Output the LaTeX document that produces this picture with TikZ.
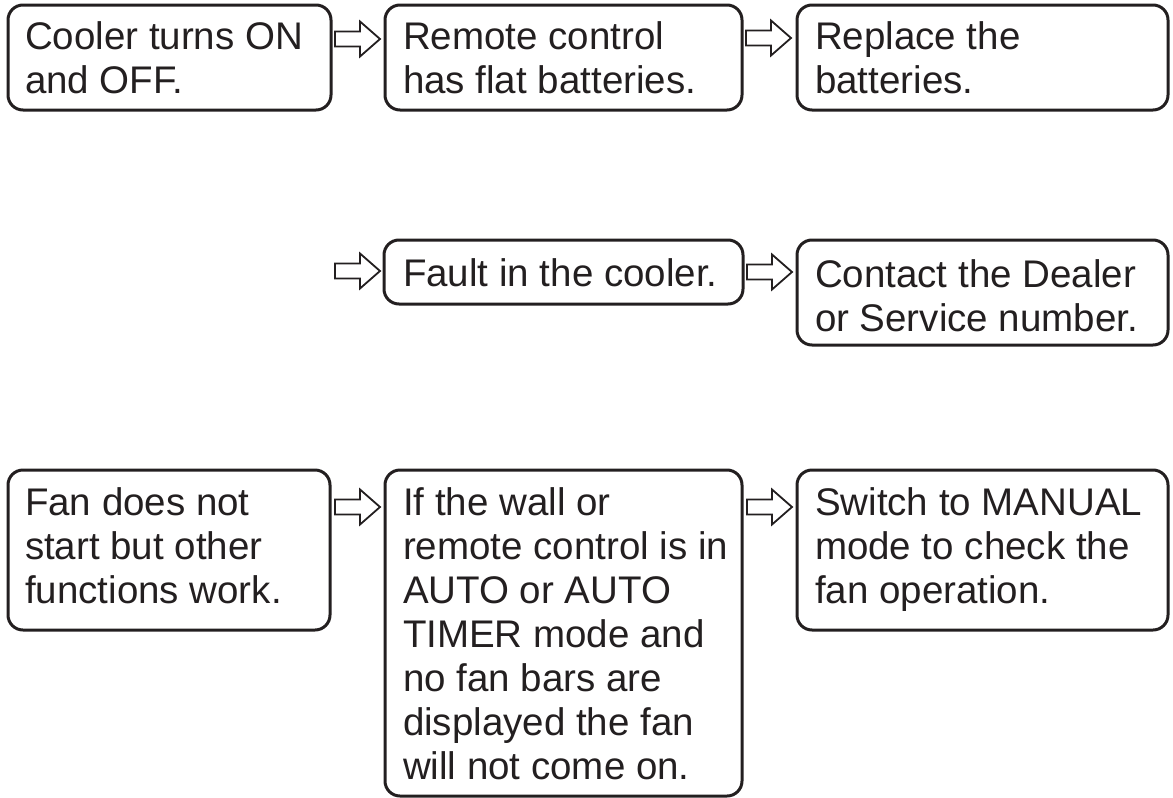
\documentclass[tikz,border=0pt]{standalone}
\usepackage{fontspec}
\setmainfont{Liberation Sans}
\usetikzlibrary{calc}
\definecolor{ink}{HTML}{231F20}
\begin{document}
\begin{tikzpicture}[x=1pt,y=-1pt,
  box/.style={draw=ink, line width=3pt, rounded corners=15pt, inner sep=0pt, outer sep=0pt, anchor=north west},
  txt/.style={text=ink, inner sep=0pt, outer sep=0pt, anchor=base west, align=left, font=\fontsize{38.5}{44}\selectfont},
  harrow/.style={draw=ink, line width=1.8pt, fill=white, line join=miter},
  hollowarrow/.pic={\draw[harrow] (0,-7.5) -- (25,-7.5) -- (25,-17.5) -- (45,0) -- (25,17.5) -- (25,7.5) -- (0,7.5) -- cycle;}]
\useasboundingbox (0,0) rectangle (1173,798);

% row 1 (text nodes anchored at the baseline of their last line)
\node[box, minimum width=323pt, minimum height=105pt] (a) at (8,5) {};
\node[txt] (ta) at (25,93) {Cooler turns ON\\and OFF.};
\node[box, minimum width=357pt, minimum height=105pt] (b) at (385,5) {};
\node[txt] (tb) at (403,93) {Remote control\\has flat batteries.};
\node[box, minimum width=371pt, minimum height=105pt] (c) at (797,5) {};
\node[txt] (tc) at (815,93) {Replace the\\batteries.};

% row 2
\node[box, minimum width=359pt, minimum height=64pt] (d) at (384,240) {};
\node[txt] (td) at (403,286) {Fault in the cooler.};
\node[box, minimum width=371pt, minimum height=105pt] (e) at (797,240) {};
\node[txt] (te) at (815,331) {Contact the Dealer\\or Service number.};

% row 3
\node[box, minimum width=322pt, minimum height=160pt] (f) at (8,470) {};
\node[txt] (tf) at (25,603) {Fan does not\\start but other\\functions work.};
\node[box, minimum width=357pt, minimum height=326pt] (g) at (385,470) {};
\node[txt] (tg) at (403,779) {If the wall or\\remote control is in\\AUTO or AUTO\\TIMER mode and\\no fan bars are\\displayed the fan\\will not come on.};
\node[box, minimum width=371pt, minimum height=160pt] (h) at (797,470) {};
\node[txt] (th) at (815,603) {Switch to MANUAL\\mode to check the\\fan operation.};

% arrows
\pic at ($(a.north east)+(4,34)$) {hollowarrow};
\pic at ($(b.north east)+(4,33)$) {hollowarrow};
\pic at ($(d.north west)+(-49,31)$) {hollowarrow};
\pic at ($(d.north east)+(4,32)$) {hollowarrow};
\pic at ($(f.north east)+(5,37)$) {hollowarrow};
\pic at ($(g.north east)+(5,37)$) {hollowarrow};
\end{tikzpicture}
\end{document}
